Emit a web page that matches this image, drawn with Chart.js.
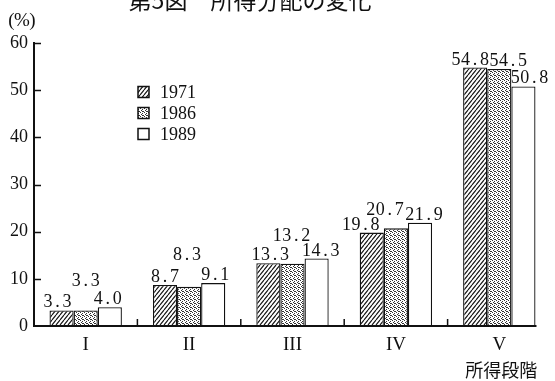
<!DOCTYPE html>
<html><head><meta charset="utf-8">
<script src="https://cdn.jsdelivr.net/npm/chart.js@4.4.0/dist/chart.umd.min.js"></script>
<style>html,body{margin:0;padding:0;background:#fff;}#wrap{width:555px;height:381px;position:relative;}</style>
</head><body><div id="wrap"><canvas id="c" width="555" height="381"></canvas></div>
<script>
const titleText = '第5図　所得分配の変化';
const yUnit = '(%)';
const xAxisName = '所得段階';
const categories = ['I', 'II', 'III', 'IV', 'V'];
const seriesNames = ['1971', '1986', '1989'];
const values1971 = [3.3, 8.7, 13.3, 19.8, 54.8];
const values1986 = [3.3, 8.3, 13.2, 20.7, 54.5];
const values1989 = [4.0, 9.1, 14.3, 21.9, 50.8];
const yTickMax = 60;
const yTickStep = 10;

// label placement tweaks (layout only): [dx, extra lift] per series / category
const labelShift = [
  [[-4, 0], [0, 0], [2, 0], [-11, 0], [-5, 0]],
  [[0, 21], [-2, 24], [-1, 20], [-11, 10], [9, 0]],
  [[-2, 0], [2, 0], [4, 0], [4, 0], [6, 0]]
];

const INK = '#111';
function makeHatch() {
  const w = 4, h = 5, c = document.createElement('canvas');
  c.width = w; c.height = h;
  const x = c.getContext('2d');
  x.fillStyle = '#fff'; x.fillRect(0, 0, w, h);
  x.strokeStyle = INK; x.lineWidth = 1.1;
  x.beginPath();
  for (const o of [-w, 0, w]) { x.moveTo(o, h); x.lineTo(o + w, 0); }
  x.stroke();
  return x.createPattern(c, 'repeat');
}
function makeStipple() {
  const c = document.createElement('canvas');
  c.width = 4; c.height = 4;
  const x = c.getContext('2d');
  x.fillStyle = '#fff'; x.fillRect(0, 0, 4, 4);
  x.fillStyle = '#333';
  [[0, 0], [2, 1], [1, 2], [3, 3], [2, 3]].forEach(p => x.fillRect(p[0], p[1], 1, 1));
  return x.createPattern(c, 'repeat');
}
const fills = [makeHatch(), makeStipple(), '#ffffff'];
const seriesValues = [values1971, values1986, values1989];

function drawCells(ctx, text, cx, y, cell) {
  const chars = [...text];
  const total = chars.length * cell;
  let x0 = cx - total / 2;
  ctx.textAlign = 'center';
  chars.forEach((ch, i) => ctx.fillText(ch, x0 + cell * i + cell / 2, y));
}

const overlay = {
  id: 'overlay',
  afterDatasetsDraw(chart) {
    const ctx = chart.ctx, ca = chart.chartArea;
    const ys = chart.scales.y, xs = chart.scales.x;
    ctx.save();
    ctx.fillStyle = INK; ctx.strokeStyle = INK;
    // title (cut at top as in the scan)
    ctx.font = '23px "Noto Sans CJK JP"';
    ctx.textAlign = 'center'; ctx.textBaseline = 'alphabetic';
    ctx.fillText(titleText, 250, 9);
    // unit
    ctx.font = '19px "Liberation Serif"';
    ctx.textBaseline = 'middle';
    drawCells(ctx, yUnit, 22, 21, 10.5);
    // last bar right edge
    const lastMeta = chart.getDatasetMeta(seriesValues.length - 1);
    const lastBar = lastMeta.data[lastMeta.data.length - 1];
    const xEnd = lastBar.x + lastBar.width / 2;
    // axes
    ctx.lineWidth = 2;
    ctx.beginPath();
    ctx.moveTo(ca.left, ys.getPixelForValue(yTickMax) - 1);
    ctx.lineTo(ca.left, ca.bottom + 1);
    ctx.moveTo(ca.left - 1, ca.bottom);
    ctx.lineTo(xEnd + 1, ca.bottom);
    ctx.stroke();
    // y ticks (inward)
    ctx.lineWidth = 1.5;
    ctx.beginPath();
    for (let v = yTickStep; v <= yTickMax; v += yTickStep) {
      const py = Math.round(ys.getPixelForValue(v)) + 0.5;
      ctx.moveTo(ca.left, py); ctx.lineTo(ca.left + 7, py);
    }
    // x ticks between categories (inward)
    for (let i = 0; i < categories.length - 1; i++) {
      const px = (xs.getPixelForValue(i) + xs.getPixelForValue(i + 1)) / 2;
      ctx.moveTo(px, ca.bottom); ctx.lineTo(px, ca.bottom - 7);
    }
    ctx.stroke();
    // value labels
    ctx.font = '18px "Liberation Serif"';
    ctx.textBaseline = 'alphabetic';
    seriesValues.forEach((vals, si) => {
      const meta = chart.getDatasetMeta(si);
      meta.data.forEach((bar, ci) => {
        const [dx, lift] = labelShift[si][ci];
        drawCells(ctx, vals[ci].toFixed(1), bar.x + dx, bar.y - 3 - lift, 9.5);
      });
    });
    // legend
    seriesNames.forEach((name, i) => {
      const cy = 92 + 21 * i;
      ctx.fillStyle = fills[i];
      ctx.fillRect(138, cy - 5.5, 11, 11);
      ctx.lineWidth = 1.5; ctx.strokeStyle = INK;
      ctx.strokeRect(138, cy - 5.5, 11, 11);
      ctx.fillStyle = INK;
      ctx.font = '18px "Liberation Serif"';
      ctx.textBaseline = 'middle';
      [...name].forEach((ch, k) => { ctx.textAlign = 'center'; ctx.fillText(ch, 160 + 9 * k + 4.5, cy + 1); });
    });
    // x axis name
    ctx.font = '18px "Noto Sans CJK JP"';
    ctx.textAlign = 'center'; ctx.textBaseline = 'middle';
    ctx.fillText(xAxisName, xs.getPixelForValue(categories.length - 1) + 2, 370);
    ctx.restore();
  }
};

new Chart(document.getElementById('c'), {
  type: 'bar',
  data: {
    labels: categories,
    datasets: seriesNames.map((n, i) => ({
      label: n,
      data: seriesValues[i],
      backgroundColor: fills[i],
      borderColor: INK,
      borderWidth: 1.3,
      categoryPercentage: 0.7,
      barPercentage: 1.0
    }))
  },
  options: {
    responsive: false,
    animation: false,
    devicePixelRatio: 1,
    layout: { padding: { top: 43, right: 4, left: 0, bottom: 0 } },
    plugins: { legend: { display: false }, tooltip: { enabled: false }, title: { display: false } },
    scales: {
      x: {
        grid: { display: false, drawTicks: false },
        border: { display: false },
        ticks: { color: INK, font: { family: 'Liberation Serif', size: 19 }, padding: 8, maxRotation: 0 },
        afterFit: s => { s.height = 55; }
      },
      y: {
        min: 0, max: yTickMax,
        grid: { display: false, drawTicks: false },
        border: { display: false },
        ticks: { stepSize: yTickStep, color: INK, font: { family: 'Liberation Serif', size: 18 }, padding: 6 },
        afterFit: s => { s.width = 34; }
      }
    }
  },
  plugins: [overlay]
});
</script>
</body></html>
